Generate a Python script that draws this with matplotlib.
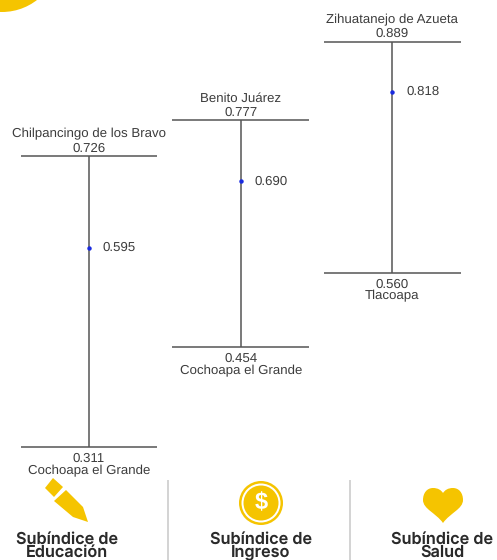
import matplotlib
matplotlib.use('Agg')
import matplotlib.pyplot as plt
from matplotlib.patches import Circle, Polygon, PathPatch
from matplotlib.path import Path

# values
maximos = [0.726, 0.777, 0.889]
medias = [0.595, 0.690, 0.818]
minimos = [0.311, 0.454, 0.560]
mun_max = ['Chilpancingo de los Bravo', 'Benito Juárez', 'Zihuatanejo de Azueta']
mun_min = ['Cochoapa el Grande', 'Cochoapa el Grande', 'Tlacoapa']
subindices = ['Subíndice de\nEducación', 'Subíndice de\nIngreso', 'Subíndice de\nSalud']

plt.rcParams['font.family'] = ['Liberation Sans', 'DejaVu Sans']
plt.rcParams['text.hinting'] = 'none'
amarillo = '#f5c400'
gris = '#555555'
texto = '#3c3c3c'
fs = 9.5

fig = plt.figure(figsize=(4.97, 5.6), dpi=100)

# chart axes, fills the whole figure
ax = fig.add_axes([0, 0, 1, 1])
ax.set_xlim(-89 / 151.7, (497 - 89) / 151.7)
ax.set_ylim(0.889 - (560 - 42) / 700.7, 0.889 + 42 / 700.7)
ax.axis('off')

for i in range(3):
    ax.vlines(i, minimos[i], maximos[i], color=gris, lw=1.1)
    ax.hlines([minimos[i], maximos[i]], i - 0.45, i + 0.45, color=gris, lw=1.1)
    ax.plot(i, medias[i], 'o', color='#1a2be0', ms=2.2, zorder=3)

    ax.annotate(f'{medias[i]:.3f}', (i, medias[i]), xytext=(10, 0),
                textcoords='offset points', va='center', ha='left', fontsize=fs, color=texto)
    ax.annotate(f'{maximos[i]:.3f}', (i, maximos[i]), xytext=(0, 1.5),
                textcoords='offset points', va='bottom', ha='center', fontsize=fs, color=texto)
    ax.annotate(mun_max[i], (i, maximos[i]), xytext=(0, 11.5),
                textcoords='offset points', va='bottom', ha='center', fontsize=fs, color=texto)
    ax.annotate(f'{minimos[i]:.3f}', (i, minimos[i]), xytext=(0, -4.2),
                textcoords='offset points', va='top', ha='center', fontsize=fs, color=texto)
    ax.annotate(mun_min[i], (i, minimos[i]), xytext=(0, -12.7),
                textcoords='offset points', va='top', ha='center', fontsize=fs, color=texto)

# decoration layer in pixel coordinates
deco = fig.add_axes([0, 0, 1, 1])
deco.set_xlim(0, 497)
deco.set_ylim(560, 0)
deco.axis('off')
deco.patch.set_alpha(0)

deco.add_patch(Circle((2, -45), 57, color=amarillo, lw=0))

# pencil
deco.add_patch(Polygon([(45, 488), (53, 478), (63, 487), (54, 497)], color=amarillo, lw=0))
deco.add_patch(Polygon([(54, 501), (66, 490), (83, 507), (88, 522), (73, 517)], color=amarillo, lw=0))

# coin
deco.add_patch(Circle((261, 503), 22, color=amarillo, lw=0))
deco.add_patch(Circle((261, 503), 19.5, color='white', lw=0))
deco.add_patch(Circle((261, 503), 17.5, color=amarillo, lw=0))
deco.text(261, 503.5, '$', color='white', fontsize=17, fontweight='bold', ha='center', va='center')

# heart
heart = Path([(443, 523),
              (436, 513), (423, 509), (423, 500),
              (423, 493), (427, 488), (433, 488),
              (438, 488), (441, 490), (443, 493),
              (445, 490), (448, 488), (453, 488),
              (459, 488), (463, 493), (463, 500),
              (463, 509), (450, 513), (443, 523)],
             [Path.MOVETO] + [Path.CURVE4] * 18)
deco.add_patch(PathPatch(heart, color=amarillo, lw=0))

# separators
deco.vlines([168, 350], 480, 560, color='#cccccc', lw=1.2)

for x, s in zip([67, 261, 442], subindices):
    deco.text(x, 560, s, ha='center', va='bottom', fontsize=11.7, fontweight='semibold',
              family=['Inter', 'DejaVu Sans'], color='#2a2a2a', linespacing=0.78)

fig.savefig('out.png', dpi=100)
